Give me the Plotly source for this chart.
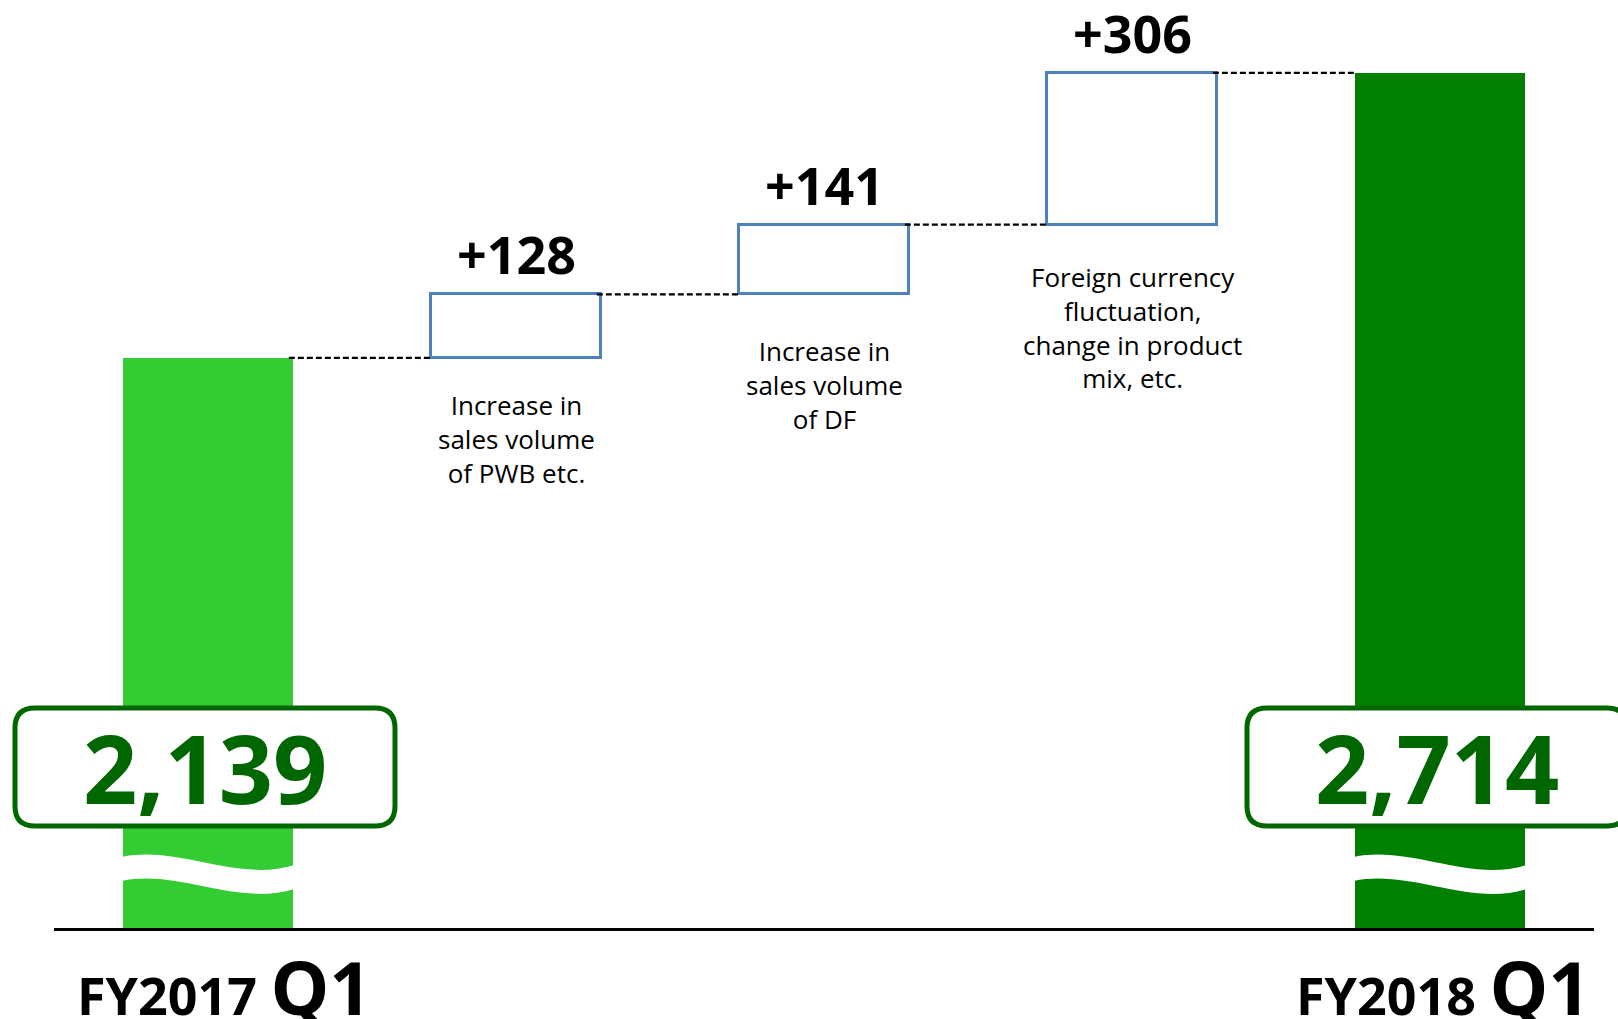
import plotly.graph_objects as go

# ---------------- data ----------------
period_labels = ["FY2017", "FY2018"]
quarter_label = "Q1"
start_value = 2139
end_value = 2714
change_values = [128, 141, 306]
change_labels = [
    "Increase in<br>sales volume<br>of PWB etc.",
    "Increase in<br>sales volume<br>of DF",
    "Foreign currency<br>fluctuation,<br>change in product<br>mix, etc.",
]

# ---------------- layout constants ----------------
FIG_W, FIG_H = 1618, 1019
ML, MR, MT, MB = 54, 24, 0, 91
PW, PH = FIG_W - ML - MR, FIG_H - MT - MB
N = 2 + len(change_values)
STEP = PW / N
BAR_W = 0.555
Y_RANGE = [989, 2861]

LIGHT_GREEN = "#33CC33"
DARK_GREEN = "#008000"
TEXT_GREEN = "#006600"
BLUE = "#4F81BD"
FONT = "Open Sans"


def px2paper_x(x):
    return (x - ML) / PW


def px2paper_y(y):
    return (MT + PH - y) / PH


def bar_center_px(i):
    return ML + (i + 0.5) * STEP


# cumulative levels
levels = [start_value]
for d in change_values:
    levels.append(levels[-1] + d)

x_total = [0, N - 1]
x_change = list(range(1, N - 1))

fig = go.Figure()
fig.add_trace(go.Bar(
    x=x_total, y=[start_value, end_value], width=BAR_W,
    marker=dict(color=[LIGHT_GREEN, DARK_GREEN], line=dict(width=0)),
    hoverinfo="skip", showlegend=False,
))
fig.add_trace(go.Bar(
    x=x_change, y=change_values, base=levels[:-1], width=BAR_W,
    marker=dict(color="white", line=dict(color=BLUE, width=3)),
    hoverinfo="skip", showlegend=False,
))

shapes = []
annotations = []

# dashed connectors
for i in range(N - 1):
    shapes.append(dict(
        type="line", xref="x", yref="y",
        x0=i + BAR_W / 2 - 0.015, x1=i + 1 - BAR_W / 2, y0=levels[i], y1=levels[i],
        line=dict(color="black", width=2.2, dash="6px,3px"), layer="above",
    ))

# change labels (+xxx) and descriptions
desc_shift = [-27, -37, -32]
for k, (xi, d) in enumerate(zip(x_change, change_values)):
    annotations.append(dict(
        x=xi, y=levels[k + 1], xref="x", yref="y", text=f"<b>+{d}</b>",
        showarrow=False, yanchor="bottom", yshift=3,
        font=dict(family=FONT, size=52, color="black"),
    ))
    annotations.append(dict(
        x=xi, y=levels[k], xref="x", yref="y", text=change_labels[k],
        showarrow=False, yanchor="top", yshift=desc_shift[k],
        font=dict(family=FONT, size=26, color="black"),
    ))


def wave_band(cx):
    x0 = cx - BAR_W * STEP / 2 - 1
    w = BAR_W * STEP + 2
    yt = 857
    th = 24
    pts_top = [(x0, yt), (x0 + w / 3, yt - 12), (x0 + 2 * w / 3, yt + 26), (x0 + w, yt + 8)]
    pts_bot = [(x, y + th) for x, y in pts_top]
    P = lambda p: f"{px2paper_x(p[0]):.6f},{px2paper_y(p[1]):.6f}"
    path = (f"M{P(pts_top[0])} C{P(pts_top[1])} {P(pts_top[2])} {P(pts_top[3])} "
            f"L{P(pts_bot[3])} C{P(pts_bot[2])} {P(pts_bot[1])} {P(pts_bot[0])} Z")
    return dict(type="path", xref="paper", yref="paper", path=path,
                fillcolor="white", line=dict(width=0), layer="above")


def rounded_box(cx, cy, w, h, r):
    x0, x1 = cx - w / 2, cx + w / 2
    y0, y1 = cy - h / 2, cy + h / 2
    P = lambda x, y: f"{px2paper_x(x):.6f},{px2paper_y(y):.6f}"
    path = (f"M{P(x0 + r, y0)} L{P(x1 - r, y0)} Q{P(x1, y0)} {P(x1, y0 + r)} "
            f"L{P(x1, y1 - r)} Q{P(x1, y1)} {P(x1 - r, y1)} "
            f"L{P(x0 + r, y1)} Q{P(x0, y1)} {P(x0, y1 - r)} "
            f"L{P(x0, y0 + r)} Q{P(x0, y0)} {P(x0 + r, y0)} Z")
    return dict(type="path", xref="paper", yref="paper", path=path,
                fillcolor="white", line=dict(color=TEXT_GREEN, width=5), layer="above")


for xi, v in zip(x_total, [start_value, end_value]):
    cx = bar_center_px(xi)
    shapes.append(wave_band(cx))
    shapes.append(rounded_box(cx - 3, 767, 380, 118, 20))
    annotations.append(dict(
        x=px2paper_x(cx - 3), y=px2paper_y(767), xref="paper", yref="paper",
        text=f"<b>{v:,}</b>", showarrow=False, xanchor="center", yanchor="middle",
        font=dict(family=FONT, size=95, color=TEXT_GREEN),
    ))

# period labels under the axis
label_xshift = [16, 3]
for xi, p, xs in zip(x_total, period_labels, label_xshift):
    annotations.append(dict(
        x=xi, y=0, xref="x", yref="paper",
        text=f"<b>{p} <span style='font-size:74px'>{quarter_label}</span></b>",
        showarrow=False, xanchor="center", yanchor="top", yshift=-6, xshift=xs,
        font=dict(family=FONT, size=52, color="black"),
    ))

fig.update_layout(
    width=FIG_W, height=FIG_H,
    margin=dict(l=ML, r=MR, t=MT, b=MB, pad=0),
    plot_bgcolor="white", paper_bgcolor="white",
    barmode="overlay", bargap=0,
    shapes=shapes, annotations=annotations,
    xaxis=dict(range=[-0.5, N - 0.5], showticklabels=False,
               showgrid=False, zeroline=False, showline=True, linecolor="black",
               linewidth=3, ticks="", automargin=False, fixedrange=True),
    yaxis=dict(range=Y_RANGE, visible=False, fixedrange=True),
    hovermode=False,
)

fig.write_html("out.html", config={"displayModeBar": False},
               post_script="document.body.style.margin='0';document.body.style.overflow='hidden';")
